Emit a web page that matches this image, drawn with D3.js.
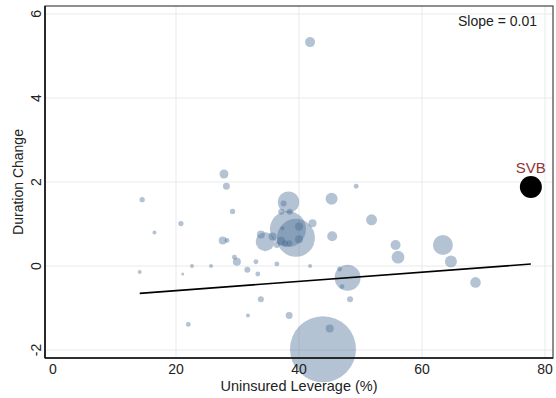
<!DOCTYPE html>
<html>
<head>
<meta charset="utf-8">
<script src="https://cdn.jsdelivr.net/npm/d3@7"></script>
<style>
  html, body { margin: 0; padding: 0; background: #fff; }
  svg { display: block; font-family: "Liberation Sans", Arial, sans-serif; }
</style>
</head>
<body>
<svg id="chart" width="556" height="398"></svg>
<script>
// Banks: uninsured leverage (%), duration change, bubble weight
const leverage = [
  41.8, 43.9, 45.0, 38.4, 33.8, 33.3, 47.9, 47.0, 46.6, 48.3,
  27.8, 28.2, 14.5, 29.2, 20.8, 16.5, 27.6, 28.3, 14.1, 21.1,
  22.6, 25.7, 29.5, 29.9, 31.6, 33.0, 36.4, 41.8, 31.7, 22.0,
  49.3, 45.3, 45.4, 42.2, 51.8, 55.7, 56.1, 63.4, 64.7, 68.7,
  38.3, 37.5, 37.1, 38.5, 38.2, 39.5, 40.0, 37.3, 40.0, 37.1,
  38.4, 37.7, 35.7, 33.8, 34.5, 36.4
];
const durationChange = [
  5.33, -1.98, -1.49, -1.18, -0.79, -0.19, -0.28, -0.49, -0.07, -0.79,
  2.19, 1.90, 1.58, 1.30, 1.01, 0.80, 0.61, 0.61, -0.14, -0.19,
  0.00, 0.00, 0.21, 0.10, -0.09, 0.10, 0.05, 0.00, -1.18, -1.39,
  1.90, 1.60, 0.71, 1.02, 1.10, 0.50, 0.21, 0.50, 0.11, -0.39,
  1.52, 1.49, 1.29, 1.29, 0.88, 0.67, 0.94, 0.90, 0.64, 0.60,
  0.54, 0.54, 0.70, 0.75, 0.58, 0.50
];
const weight = [
  25, 1089, 16, 12, 9, 6, 169, 6, 6, 9,
  20, 12, 7, 7, 7, 4, 16, 6, 4, 2.3,
  4, 4, 6, 16, 9, 6, 6, 4, 4, 6,
  6, 36, 25, 16, 30, 25, 40, 100, 36, 28,
  114, 9, 9, 9, 324, 361, 16, 4, 16, 16,
  9, 9, 16, 16, 90, 9
];

// SVB highlighted separately
const svb = { name: "SVB", leverage: 77.7, durationChange: 1.88 };

// Fitted line: durationChange = intercept + slope * leverage
const fitIntercept = -0.807;
const fitSlope = 0.011;
const slopeLabel = "Slope = 0.01";

const xTicks = [0, 20, 40, 60, 80];
const yTicks = [-2, 0, 2, 4, 6];
const xTitle = "Uninsured Leverage (%)";
const yTitle = "Duration Change";

const svg = d3.select("#chart");
const plot = { left: 45, top: 6, right: 553, bottom: 358 };

const x = d3.scaleLinear().domain([-1.3, 81.3]).range([plot.left, plot.right]);
const y = d3.scaleLinear().domain([-2.19, 6.19]).range([plot.bottom, plot.top]);
const r = d3.scaleSqrt().domain([0, 1089]).range([0, 33]);

// Gridlines
const grid = svg.append("g");
grid.selectAll("line.gy").data(yTicks).join("line")
  .attr("x1", plot.left).attr("x2", plot.right)
  .attr("y1", d => y(d)).attr("y2", d => y(d))
  .attr("stroke", "#e9e9e9").attr("stroke-width", 1);
grid.selectAll("line.gx").data(xTicks.filter(d => d !== 0)).join("line")
  .attr("y1", plot.top).attr("y2", plot.bottom)
  .attr("x1", d => x(d)).attr("x2", d => x(d))
  .attr("stroke", "#e9e9e9").attr("stroke-width", 1);

// Bubbles
const data = leverage.map((v, i) => ({ x: v, y: durationChange[i], w: weight[i] }));
svg.append("g").selectAll("circle").data(data).join("circle")
  .attr("cx", d => x(d.x)).attr("cy", d => y(d.y)).attr("r", d => r(d.w))
  .attr("fill", "rgb(68,105,145)").attr("fill-opacity", 0.4);

// Fit line over the observed range
const xExt = d3.extent(leverage.concat([svb.leverage]));
svg.append("line")
  .attr("x1", x(xExt[0])).attr("y1", y(fitIntercept + fitSlope * xExt[0]))
  .attr("x2", x(xExt[1])).attr("y2", y(fitIntercept + fitSlope * xExt[1]))
  .attr("stroke", "#000").attr("stroke-width", 1.6);

// SVB marker and label
svg.append("circle")
  .attr("cx", x(svb.leverage)).attr("cy", y(svb.durationChange)).attr("r", 11)
  .attr("fill", "#000");
svg.append("text")
  .attr("x", x(svb.leverage)).attr("y", y(svb.durationChange) - 14)
  .attr("text-anchor", "middle").attr("font-size", 15).attr("fill", "#8f3535")
  .text(svb.name);

// Frame
svg.append("rect")
  .attr("x", plot.left).attr("y", plot.top)
  .attr("width", plot.right - plot.left).attr("height", plot.bottom - plot.top)
  .attr("fill", "none").attr("stroke", "#444").attr("stroke-width", 1.2);
svg.append("line").attr("x1", plot.left).attr("x2", plot.left)
  .attr("y1", plot.top).attr("y2", plot.bottom).attr("stroke", "#111").attr("stroke-width", 1.6);
svg.append("line").attr("x1", plot.left).attr("x2", plot.right)
  .attr("y1", plot.bottom).attr("y2", plot.bottom).attr("stroke", "#111").attr("stroke-width", 1.6);

// Tick labels
svg.append("g").selectAll("text").data(xTicks).join("text")
  .attr("x", d => x(d)).attr("y", 374)
  .attr("text-anchor", "middle").attr("font-size", 14).attr("fill", "#222")
  .text(d => d);
svg.append("g").selectAll("text").data(yTicks).join("text")
  .attr("transform", d => `translate(40.5,${y(d)}) rotate(-90)`)
  .attr("text-anchor", "middle").attr("font-size", 14).attr("fill", "#222")
  .text(d => d);

// Axis titles
svg.append("text")
  .attr("x", (plot.left + plot.right) / 2).attr("y", 391)
  .attr("text-anchor", "middle").attr("font-size", 14.5).attr("fill", "#222")
  .text(xTitle);
svg.append("text")
  .attr("transform", `translate(23,${(plot.top + plot.bottom) / 2}) rotate(-90)`)
  .attr("text-anchor", "middle").attr("font-size", 14).attr("fill", "#222")
  .text(yTitle);

// Slope annotation
svg.append("text")
  .attr("x", 537).attr("y", 26)
  .attr("text-anchor", "end").attr("font-size", 14).attr("fill", "#222")
  .text(slopeLabel);
</script>
</body>
</html>
